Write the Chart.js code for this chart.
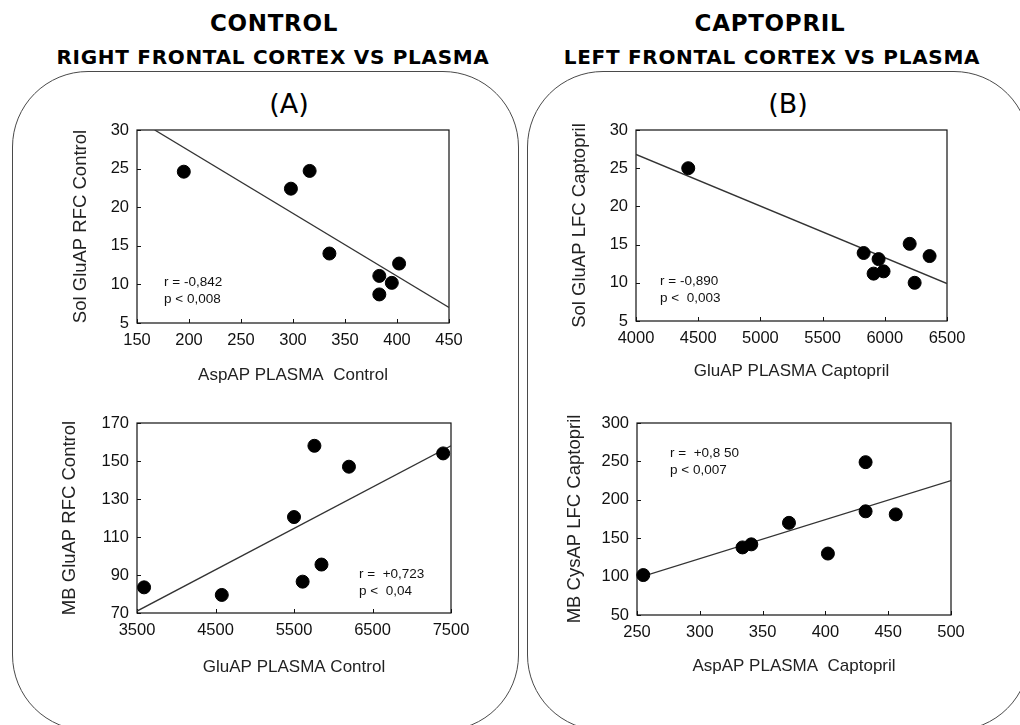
<!DOCTYPE html>
<html>
<head>
<meta charset="utf-8">
<script src="https://cdn.jsdelivr.net/npm/chart.js@4.4.1/dist/chart.umd.min.js"></script>
<style>
  html, body { margin: 0; padding: 0; background: #fff; }
  body { width: 1020px; height: 725px; position: relative; overflow: hidden; }
  .panel { position: absolute; box-sizing: border-box; border: 1.5px solid #4a4a4a; border-radius: 76px; }
  .t1, .t2, .lab { position: absolute; transform: translate(-50%, -50%); white-space: nowrap; color: #000; }
  .t1 { font: bold 23px "DejaVu Sans", Verdana, sans-serif; letter-spacing: 0.7px; }
  .t2 { font: bold 20px "DejaVu Sans", Verdana, sans-serif; letter-spacing: 0.7px; }
  .lab { font: 27px "DejaVu Sans", Verdana, sans-serif; }
  .cv { position: absolute; }
</style>
</head>
<body>
<div class="panel" style="left:12px; top:71px; width:507px; height:660px;"></div>
<div class="panel" style="left:527px; top:71px; width:503px; height:660px;"></div>

<div class="t1" style="left:274px; top:23px;">CONTROL</div>
<div class="t2" style="left:273px; top:57px;">RIGHT FRONTAL CORTEX VS PLASMA</div>
<div class="t1" style="left:770px; top:23px;">CAPTOPRIL</div>
<div class="t2" style="left:772px; top:57px;">LEFT FRONTAL CORTEX VS PLASMA</div>
<div class="lab" style="left:289px; top:103px;">(A)</div>
<div class="lab" style="left:788px; top:103px;">(B)</div>

<canvas id="cA1" class="cv"></canvas>
<canvas id="cB1" class="cv"></canvas>
<canvas id="cA2" class="cv"></canvas>
<canvas id="cB2" class="cv"></canvas>

<script>
// ---------- DATA ----------
// (A) top: AspAP plasma control vs Sol GluAP RFC control
const aTopX = [195, 298, 316, 335, 383, 383, 395, 402];
const aTopY = [24.6, 22.4, 24.7, 14.0, 11.1, 8.7, 10.2, 12.7];
const aTopLineX = [167, 450];
const aTopLineY = [30, 7.0];
const aTopStats = ["r = -0,842", "p < 0,008"];

// (B) top: GluAP plasma captopril vs Sol GluAP LFC captopril
const bTopX = [4420, 5830, 5910, 5950, 5990, 6200, 6240, 6360];
const bTopY = [25.0, 13.9, 11.2, 13.1, 11.5, 15.1, 10.0, 13.5];
const bTopLineX = [4000, 6500];
const bTopLineY = [26.8, 9.9];
const bTopStats = ["r = -0,890", "p <  0,003"];

// (A) bottom: GluAP plasma control vs MB GluAP RFC control
const aBotX = [3590, 4580, 5500, 5610, 5760, 5850, 6200, 7400];
const aBotY = [83.5, 79.5, 120.5, 86.5, 158, 95.5, 147, 154];
const aBotLineX = [3500, 7500];
const aBotLineY = [71, 158];
const aBotStats = ["r =  +0,723", "p <  0,04"];

// (B) bottom: AspAP plasma captopril vs MB CysAP LFC captopril
const bBotX = [255, 334, 341, 371, 402, 432, 432, 456];
const bBotY = [102, 138, 142, 170, 130, 249, 185, 181];
const bBotLineX = [250, 500];
const bBotLineY = [98, 225];
const bBotStats = ["r =  +0,8 50", "p < 0,007"];

// Axis ranges and ticks
const aTopXTicks = [150, 450, 50], aTopYTicks = [5, 30, 5];
const bTopXTicks = [4000, 6500, 500], bTopYTicks = [5, 30, 5];
const aBotXTicks = [3500, 7500, 1000], aBotYTicks = [70, 170, 20];
const bBotXTicks = [250, 500, 50], bBotYTicks = [50, 300, 50];

// Axis titles
const aTopTitles = ["AspAP PLASMA  Control", "Sol GluAP RFC Control"];
const bTopTitles = ["GluAP PLASMA Captopril", "Sol GluAP LFC Captopril"];
const aBotTitles = ["GluAP PLASMA Control", "MB GluAP RFC Control"];
const bBotTitles = ["AspAP PLASMA  Captopril", "MB CysAP LFC Captopril"];

// ---------- RENDER ----------
const ARIAL = "'Liberation Sans', Arial, sans-serif";

const framePlugin = {
  id: 'frame',
  beforeDatasetsDraw(chart) {
    const {ctx, chartArea: a, scales} = chart;
    ctx.save();
    ctx.strokeStyle = '#111';
    ctx.lineWidth = 1.2;
    ctx.strokeRect(a.left, a.top, a.right - a.left, a.bottom - a.top);
    ctx.lineWidth = 1;
    ctx.beginPath();
    scales.x.ticks.forEach(t => {
      const x = Math.round(scales.x.getPixelForValue(t.value)) + 0.5;
      ctx.moveTo(x, a.bottom); ctx.lineTo(x, a.bottom - 4);
    });
    scales.y.ticks.forEach(t => {
      const y = Math.round(scales.y.getPixelForValue(t.value)) + 0.5;
      ctx.moveTo(a.left, y); ctx.lineTo(a.left + 4, y);
    });
    ctx.stroke();
    ctx.restore();
  },
  afterDraw(chart, args, opts) {
    const {ctx, chartArea: a} = chart;
    ctx.save();
    ctx.fillStyle = '#111';
    ctx.font = "13.5px " + ARIAL;
    ctx.textBaseline = 'middle';
    ctx.textAlign = 'left';
    (opts.stats || []).forEach((s, i) => {
      ctx.fillText(s, a.left + opts.dx, a.top + opts.dy + i * 17);
    });
    ctx.restore();
  }
};

function pts(xs, ys) { return xs.map((x, i) => ({x: x, y: ys[i]})); }

function makeChart(id, box, plot, xs, ys, lx, ly, xt, yt, titles, stats, statPos, yTitleX, xTitleY) {
  const cv = document.getElementById(id);
  const [cl, ct, cw, ch] = box;
  const [pl, pt, pr, pb] = plot;
  cv.style.left = cl + 'px'; cv.style.top = ct + 'px';
  cv.width = cw; cv.height = ch;
  const yW = pl - cl, xH = ct + ch - pb;
  const xTitleFont = 17, xlh = xTitleFont * 1.2;
  const yTitleFont = 18.5, ylh = yTitleFont * 1.2;
  new Chart(cv, {
    type: 'scatter',
    data: {
      datasets: [
        { type: 'line', data: pts(lx, ly), borderColor: '#333', borderWidth: 1.3,
          pointRadius: 0, fill: false, tension: 0, order: 2 },
        { type: 'scatter', data: pts(xs, ys), backgroundColor: '#000', borderColor: '#000',
          pointRadius: 6.5, pointHoverRadius: 6.5, clip: false, order: 1 }
      ]
    },
    options: {
      responsive: false,
      animation: false,
      devicePixelRatio: 1,
      events: [],
      layout: { padding: { left: 0, top: pt - ct, right: cl + cw - pr, bottom: 0 } },
      plugins: {
        legend: { display: false },
        tooltip: { enabled: false },
        frame: { stats: stats, dx: statPos[0], dy: statPos[1] }
      },
      scales: {
        x: {
          type: 'linear', min: xt[0], max: xt[1],
          afterFit: s => { s.height = xH; },
          grid: { display: false, drawTicks: false },
          border: { display: false },
          ticks: { stepSize: xt[2], padding: 8, color: '#111', maxRotation: 0,
                   font: { family: ARIAL, size: 16.5 }, callback: v => String(v) },
          title: { display: true, text: titles[0], color: '#222',
                   font: { family: ARIAL, size: xTitleFont },
                   padding: { top: 0, bottom: (ct + ch) - xTitleY - xlh / 2 } }
        },
        y: {
          type: 'linear', min: yt[0], max: yt[1],
          afterFit: s => { s.width = yW; },
          grid: { display: false, drawTicks: false },
          border: { display: false },
          ticks: { stepSize: yt[2], padding: 8, color: '#111',
                   font: { family: ARIAL, size: 16.5 }, callback: v => String(v) },
          title: { display: true, text: titles[1], color: '#222',
                   font: { family: ARIAL, size: yTitleFont },
                   padding: { top: yTitleX - cl - ylh / 2, bottom: 0 } }
        }
      }
    },
    plugins: [framePlugin]
  });
}

makeChart('cA1', [30, 112, 450, 283], [137, 130, 449, 323],
  aTopX, aTopY, aTopLineX, aTopLineY, aTopXTicks, aTopYTicks, aTopTitles,
  aTopStats, [27, 152], 81, 375);
makeChart('cB1', [530, 112, 460, 283], [636, 130, 947, 321],
  bTopX, bTopY, bTopLineX, bTopLineY, bTopXTicks, bTopYTicks, bTopTitles,
  bTopStats, [24, 151], 580, 371);
makeChart('cA2', [30, 405, 450, 285], [137, 423, 451, 613],
  aBotX, aBotY, aBotLineX, aBotLineY, aBotXTicks, aBotYTicks, aBotTitles,
  aBotStats, [222, 151], 70, 667);
makeChart('cB2', [530, 405, 460, 285], [637, 423, 951, 615],
  bBotX, bBotY, bBotLineX, bBotLineY, bBotXTicks, bBotYTicks, bBotTitles,
  bBotStats, [33, 30], 575, 666);
</script>
</body>
</html>
